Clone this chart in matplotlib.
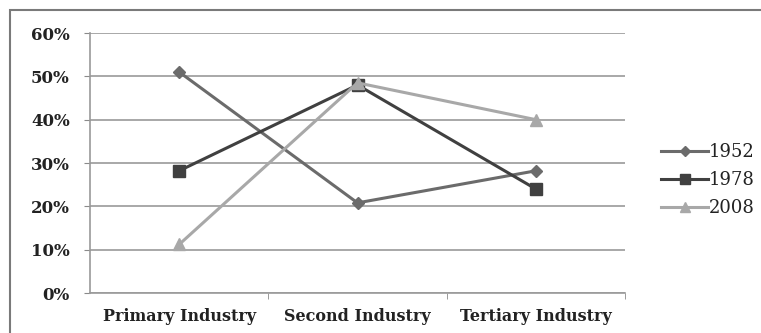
import matplotlib.pyplot as plt
from matplotlib.patches import Rectangle

categories = ["Primary Industry", "Second Industry", "Tertiary Industry"]
years = ["1952", "1978", "2008"]
v1952 = [51.0, 20.8, 28.2]
v1978 = [28.2, 48.0, 24.0]
v2008 = [11.2, 48.5, 40.0]
yticks = [0, 10, 20, 30, 40, 50, 60]

plt.rcParams["font.family"] = ["DejaVu Serif"]

fig = plt.figure(figsize=(7.61, 3.33), dpi=100)
ax = fig.add_axes([90 / 761, 1 - 293 / 333, 535 / 761, 260 / 333])

# outer chart frame, cut off at the right and bottom
fig.patches.append(Rectangle((10 / 761, -0.1), 1.2, 1 - 10 / 333 + 0.1,
                             transform=fig.transFigure, fill=False,
                             edgecolor="#7a7a7a", linewidth=1.5))

x = range(len(categories))
ax.plot(x, v1952, color="#6b6b6b", lw=2.2, marker="D", ms=6, label=years[0])
ax.plot(x, v1978, color="#404040", lw=2.2, marker="s", ms=9, label=years[1])
ax.plot(x, v2008, color="#a8a8a8", lw=2.2, marker="^", ms=9, label=years[2])

ax.set_xlim(-0.5, 2.5)
ax.set_ylim(0, 60)
ax.set_yticks(yticks)
ax.set_yticklabels([f"{t}%" for t in yticks], fontsize=12, fontweight="bold",
                   color="#222222")
ax.yaxis.grid(True, color="#9a9a9a", lw=1.2)
ax.set_axisbelow(True)

ax.set_xticks(x)
ax.set_xticklabels(categories, fontsize=11.5, fontweight="bold", color="#222222")
ax.tick_params(axis="x", length=0, pad=11)
ax.set_xticks([0.5, 1.5, 2.5], minor=True)
ax.tick_params(axis="x", which="minor", length=4, color="#8a8a8a", direction="out")
ax.tick_params(axis="y", length=4, color="#8a8a8a", pad=10.5)

for side in ["top", "right"]:
    ax.spines[side].set_visible(False)
ax.spines["left"].set_color("#9a9a9a")
ax.spines["bottom"].set_color("#9a9a9a")
ax.spines["left"].set_linewidth(1.2)
ax.spines["bottom"].set_linewidth(1.2)

leg = fig.legend(loc="center left", bbox_to_anchor=(645 / 761, 1 - 180 / 333),
                 frameon=False, fontsize=13, handlelength=2.6, handletextpad=0.05,
                 labelspacing=0.55, markerscale=0.8)
for t in leg.get_texts():
    t.set_color("#222222")
    t.set_fontweight("medium")

fig.savefig("out.png", dpi=100)
